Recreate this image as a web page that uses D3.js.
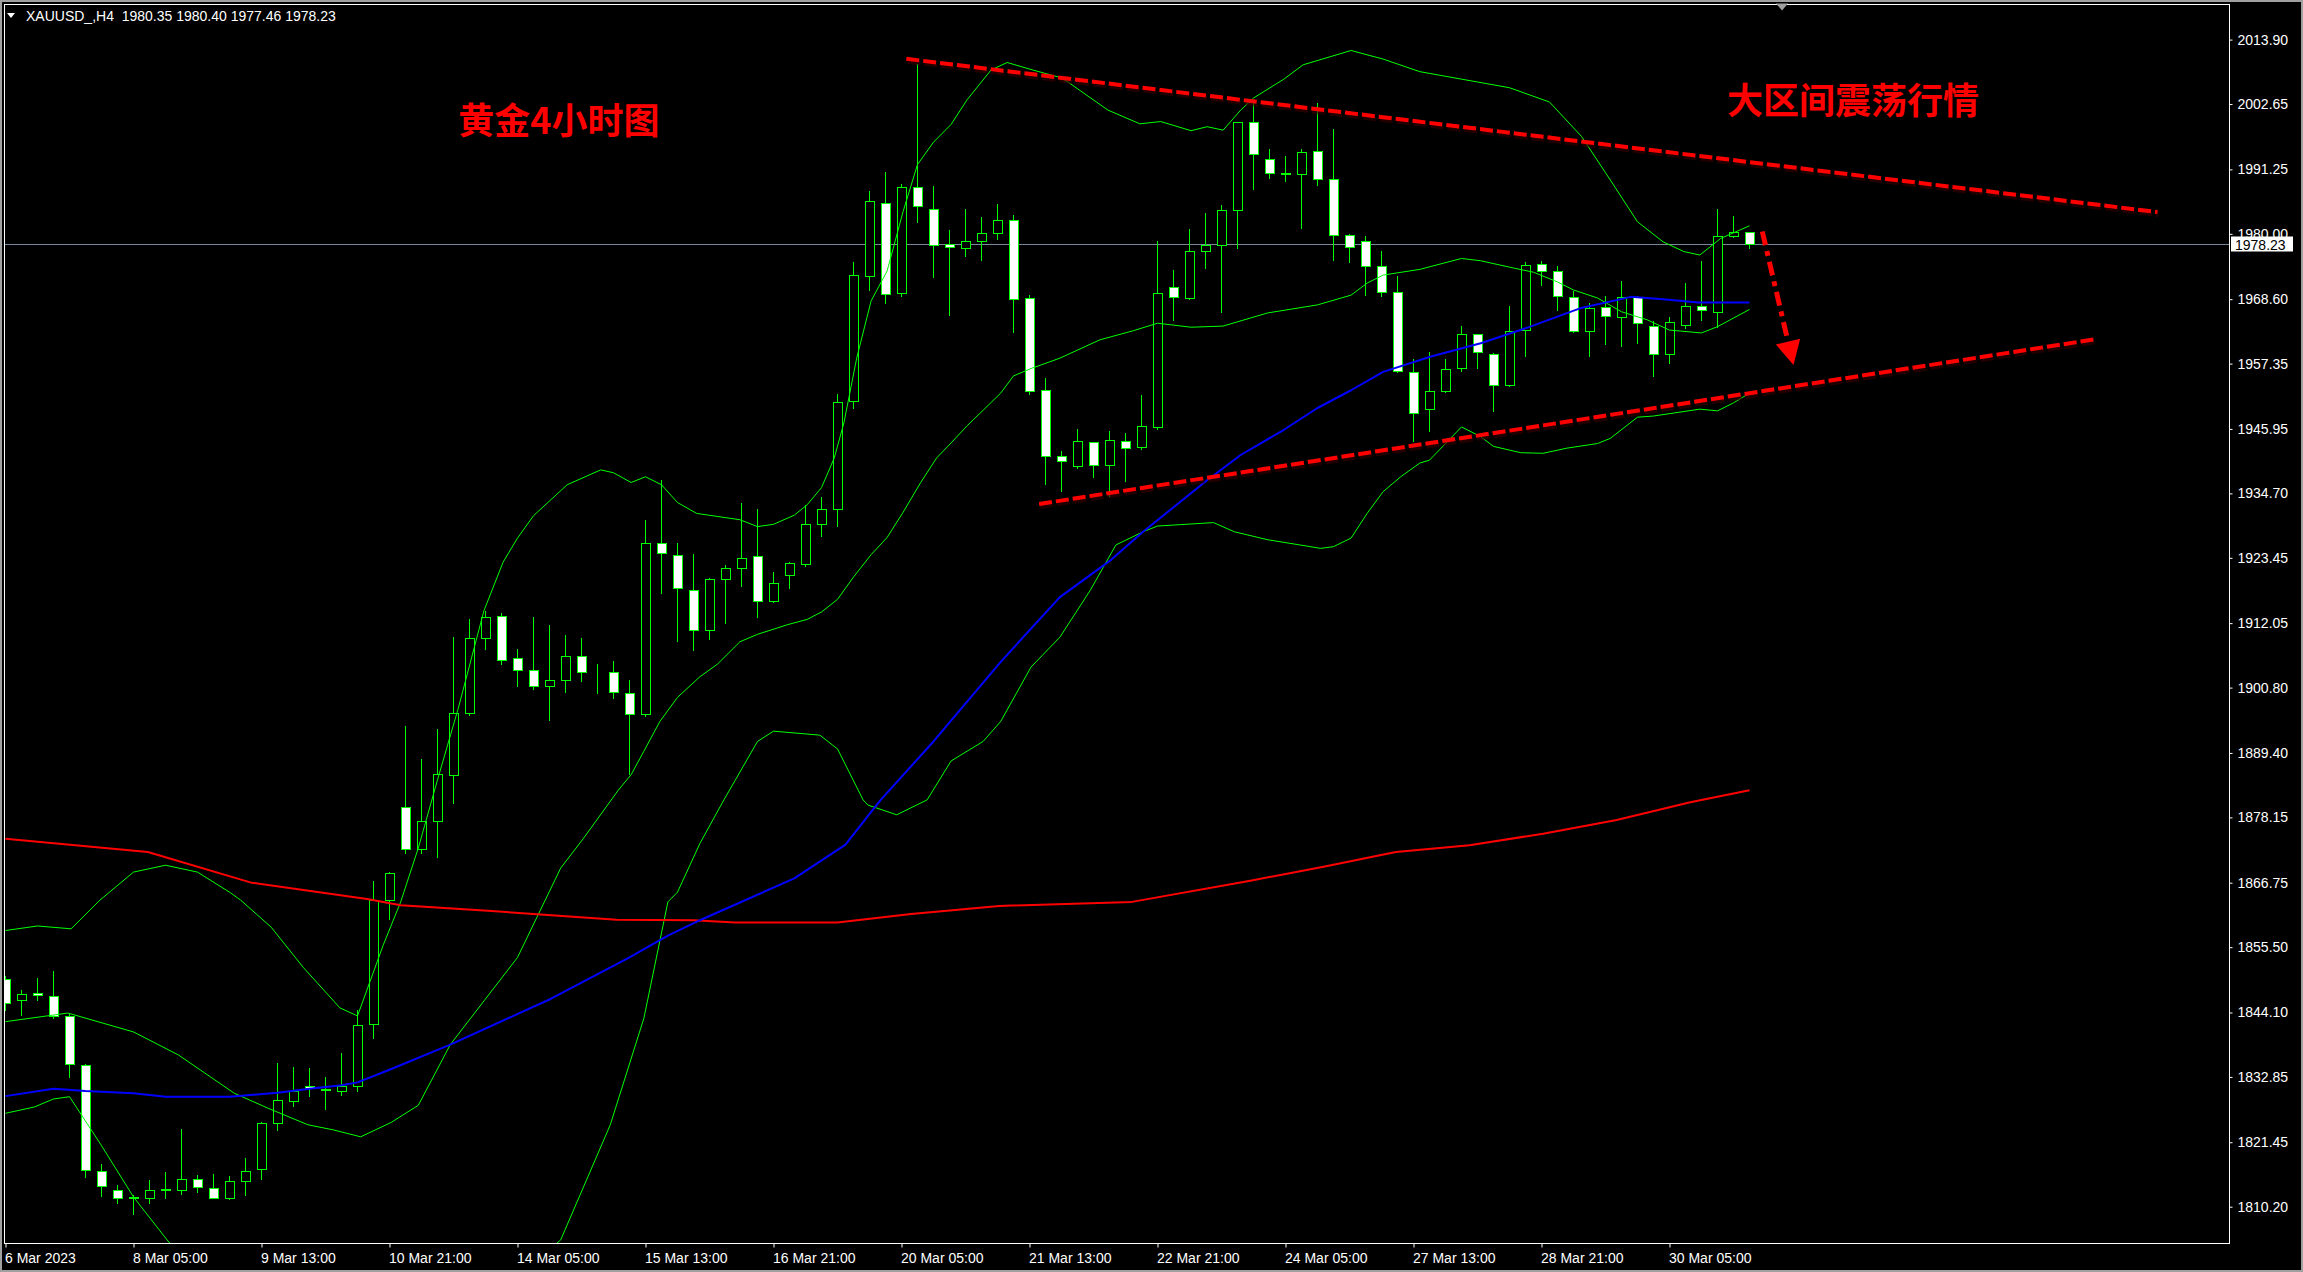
<!DOCTYPE html>
<html><head><meta charset="utf-8">
<script src="https://cdn.jsdelivr.net/npm/d3@7"></script>
<style>
html,body{margin:0;padding:0;background:#000;overflow:hidden}
svg{display:block}
</style></head><body>
<svg id="chart" width="2303" height="1272"></svg>
<script>
// ---------------- DATA ----------------
const symbolHeader = "XAUUSD_,H4  1980.35 1980.40 1977.46 1978.23";
const chartTitle = "黄金4小时图";
const rangeNote = "大区间震荡行情";
const currentPrice = 1978.23;

const opens = [1849.9,1846.3,1847.5,1846.9,1843.5,1834.9,1816.5,1813.2,1811.9,1811.7,
1813.2,1813.2,1815.1,1813.4,1811.8,1814.6,1816.7,1824.8,1828.7,1831.2,
1830.6,1830.4,1831.2,1842.1,1863.8,1879.9,1872.6,1877.6,1885.6,1896.4,
1909.5,1913.3,1905.9,1903.8,1901.1,1902.2,1906.4,1903.5,1903.5,1899.8,
1896.2,1926.0,1923.9,1917.9,1910.9,1919.7,1921.6,1923.7,1916.0,1920.5,
1922.4,1929.4,1932.0,1950.9,1972.6,1985.4,1969.6,1988.1,1984.3,1978.2,
1977.5,1978.7,1980.1,1982.5,1968.8,1952.7,1941.3,1939.4,1943.6,1939.6,
1943.8,1942.8,1946.2,1970.7,1968.8,1977.0,1978.0,1984.1,1999.6,1993.1,
1990.7,1990.4,1994.5,1989.5,1979.8,1978.8,1974.3,1969.9,1955.8,1949.5,
1952.5,1956.5,1962.5,1959.1,1953.6,1963.2,1974.7,1973.5,1968.9,1963.0,
1967.2,1965.4,1969.0,1963.9,1959.0,1964.1,1967.4,1966.4,1979.7,1980.35];
const highs = [1850.4,1848.1,1850.1,1851.3,1844.0,1835.1,1817.6,1814.0,1812.2,1814.9,
1816.3,1823.7,1815.8,1815.9,1815.6,1818.7,1824.9,1835.2,1834.5,1834.4,
1832.9,1837.0,1844.5,1867.0,1868.6,1894.1,1888.4,1893.5,1909.7,1912.7,
1914.2,1913.8,1907.6,1913.2,1911.8,1910.0,1909.5,1904.9,1905.5,1902.1,
1930.0,1937.0,1926.1,1924.1,1920.0,1922.2,1933.1,1932.0,1920.9,1922.8,
1932.7,1934.1,1952.0,1975.0,1987.5,1990.8,1988.7,2009.7,1988.4,1980.7,
1984.3,1982.9,1985.2,1983.2,1969.3,1954.8,1942.1,1945.9,1943.7,1945.6,
1945.2,1951.9,1978.8,1973.7,1980.8,1983.6,1985.0,1999.6,2003.4,1994.8,
1993.5,1994.8,2002.9,1998.3,1979.9,1979.6,1977.0,1972.6,1958.1,1959.3,
1958.2,1963.9,1962.6,1959.2,1967.4,1975.0,1975.3,1974.3,1970.0,1967.9,
1969.1,1971.8,1969.1,1964.8,1965.4,1971.5,1975.3,1984.3,1983.1,1980.40];
const lows = [1844.5,1843.7,1846.3,1843.1,1832.9,1815.3,1812.1,1810.9,1809.0,1810.9,
1811.7,1812.4,1812.8,1811.7,1811.5,1812.2,1815.0,1823.5,1827.8,1829.5,
1827.3,1829.7,1830.4,1839.6,1860.5,1871.9,1871.9,1871.2,1880.6,1896.0,
1907.6,1905.0,1901.1,1900.5,1895.1,1900.0,1901.9,1899.8,1899.0,1885.7,
1895.8,1917.3,1909.0,1907.3,1909.2,1912.1,1918.5,1913.1,1915.8,1918.1,
1922.0,1927.2,1929.0,1949.6,1970.2,1968.0,1969.1,1982.0,1972.4,1965.8,
1976.1,1975.4,1979.1,1962.9,1952.0,1936.4,1935.2,1939.2,1937.6,1934.2,
1936.9,1942.4,1946.0,1964.9,1968.6,1974.1,1966.4,1977.6,1987.8,1989.7,
1989.3,1981.1,1988.5,1975.4,1975.1,1969.3,1969.1,1955.9,1943.9,1945.6,
1952.4,1956.1,1956.5,1949.0,1953.4,1958.7,1971.0,1966.7,1962.9,1958.6,
1960.8,1960.5,1961.0,1955.2,1957.5,1963.6,1965.0,1963.8,1979.4,1977.46];
const closes = [1845.7,1847.4,1847.1,1843.5,1835.1,1816.6,1813.8,1811.8,1811.8,1813.2,
1813.3,1815.1,1813.6,1811.8,1814.6,1816.5,1824.8,1828.9,1830.4,1830.9,
1830.7,1831.2,1842.0,1863.8,1868.4,1872.7,1877.6,1885.7,1896.4,1909.5,
1913.2,1905.7,1903.9,1901.1,1902.1,1906.4,1903.6,1903.5,1900.1,1896.2,
1926.0,1924.3,1918.1,1910.9,1919.7,1921.6,1923.5,1916.0,1919.1,1922.6,
1929.4,1932.0,1950.6,1972.8,1985.8,1969.5,1988.1,1984.8,1978.0,1977.7,
1978.7,1980.1,1982.4,1968.7,1952.5,1941.3,1940.3,1943.8,1939.6,1944.0,
1942.7,1946.4,1969.6,1968.9,1977.0,1978.0,1984.1,1999.5,1993.9,1990.7,
1990.4,1994.3,1989.5,1979.8,1977.7,1974.3,1969.9,1956.1,1948.8,1952.5,
1956.4,1962.5,1959.3,1953.6,1963.1,1974.5,1973.5,1969.1,1963.0,1967.1,
1965.6,1968.9,1964.4,1959.0,1964.6,1967.4,1966.7,1979.7,1980.3,1978.23];

const timeLabelBars = [0,8,16,24,32,40,48,56,64,72,80,88,96,104];
const timeLabels = ["6 Mar 2023","8 Mar 05:00","9 Mar 13:00","10 Mar 21:00","14 Mar 05:00",
"15 Mar 13:00","16 Mar 21:00","20 Mar 05:00","21 Mar 13:00","22 Mar 21:00","24 Mar 05:00",
"27 Mar 13:00","28 Mar 21:00","30 Mar 05:00"];
const priceTicks = [2013.90,2002.65,1991.25,1980.00,1968.60,1957.35,1945.95,1934.70,1923.45,
1912.05,1900.80,1889.40,1878.15,1866.75,1855.50,1844.10,1832.85,1821.45,1810.20];

// indicator lines: [bar index, price]
const bbUpper = [[0,1858.4],[2,1859.2],[4.1,1858.7],[5.9,1863.7],[8,1868.6],[10,1869.8],[12,1868.6],[14,1865.1],
[14.7,1863.7],[16.6,1859.0],[18.6,1852.0],[20.9,1844.9],[22,1843.5],[23.6,1855.8],[24.7,1863.4],[25.8,1872.8],
[27,1884.7],[28.3,1897.2],[29.9,1914.2],[31.1,1922.7],[32,1926.9],[33,1930.8],[35.1,1936.2],[37.2,1938.8],
[38,1938.3],[39.1,1936.6],[40,1937.6],[41,1936.2],[42,1933.1],[43.2,1931.2],[45.9,1930.1],[47,1928.9],
[48,1929.3],[49.3,1930.9],[50.1,1932.7],[51,1935.7],[51.8,1940.9],[52.4,1947.0],[53.2,1958.3],[54.1,1968.3],
[55.1,1973.5],[56.1,1983.9],[57,1992.1],[58,1996.0],[59.1,1999.1],[60.1,2003.4],[61.6,2008.6],[62.6,2009.9],
[64.2,2008.6],[65.9,2007.3],[66.4,2006.5],[68.9,2001.6],[70.9,1999.2],[72.2,1999.6],[74.1,1998.0],[75.1,1998.7],
[76.1,1998.1],[77.2,2001.6],[78,2003.7],[79.9,2007.0],[81.1,2009.5],[84.1,2012.0],[86.1,2010.5],[88.4,2008.3],
[91,2007.0],[94,2005.5],[96.5,2003.0],[98.5,1997.0],[100.3,1989.4],[102,1982.1],[103.6,1978.6],[104.9,1976.9],
[105.9,1976.3],[107.2,1979.2],[109,1981.4]];
const bbMiddle = [[0,1842.5],[3.9,1844.0],[8,1840.7],[10.8,1836.7],[14.3,1830.0],[16.4,1827.4],[18.9,1824.5],
[20.5,1823.6],[22.2,1822.4],[24.1,1824.9],[25.8,1827.9],[27.8,1838.5],[29.9,1846.1],[32,1853.7],[34.7,1869.3],
[36.1,1874.4],[38.3,1882.9],[39.1,1885.6],[39.9,1889.7],[40.9,1894.9],[42,1899.1],[43.4,1902.7],[44.5,1904.9],
[45.9,1908.8],[47,1910.1],[48.9,1911.8],[50.1,1912.7],[51,1914.0],[52,1916.2],[53,1920.1],[54.1,1924.0],
[55.1,1927.0],[56.1,1931.4],[57.2,1936.6],[58.2,1940.9],[59.1,1943.5],[60.1,1946.5],[61.1,1949.2],[62.2,1952.2],
[63,1955.2],[64.1,1956.5],[65.9,1958.3],[68.4,1961.5],[70.5,1963.1],[72,1964.4],[74.1,1963.7],[76.1,1963.9],
[78.9,1966.2],[82,1967.6],[84.1,1969.3],[85.1,1971.4],[86.1,1972.8],[88.4,1973.8],[91,1975.7],[92.2,1975.3],
[94.3,1974.0],[95.5,1973.3],[97,1971.6],[98,1970.2],[99.5,1968.8],[101,1966.4],[102.6,1965.0],[104,1963.2],
[106,1962.7],[107,1963.8],[109,1966.8]];
const bbLower = [[0,1826.5],[1.8,1827.6],[3,1829.0],[4,1829.4],[5.9,1821.3],[8,1811.9],[10.1,1804.4],[13,1795.0],
[16,1788.0],[20,1785.0],[24,1786.0],[28,1790.0],[32,1798.0],[34.7,1804.4],[37.8,1824.5],[39.9,1843.1],
[41.4,1863.4],[42,1865.1],[43.4,1873.6],[44.9,1881.2],[47,1891.4],[48,1893.2],[50.9,1892.5],[52,1890.1],
[53.6,1881.2],[53.9,1880.3],[55.7,1878.6],[57.6,1881.2],[59.1,1888.0],[61.1,1891.4],[62.2,1894.9],[64.1,1904.4],
[65.9,1909.6],[67.8,1917.8],[69.4,1925.7],[71.1,1928.0],[72,1929.0],[75.5,1929.6],[76.8,1928.0],[78.9,1926.6],
[80.9,1925.7],[82.2,1925.1],[83,1925.4],[84.1,1926.9],[85.1,1931.2],[86.1,1935.0],[87.2,1937.6],[88.4,1940.0],
[89,1940.5],[91,1946.3],[92.2,1944.6],[93,1942.9],[94.7,1941.8],[96.1,1941.7],[97.6,1942.6],[99.5,1943.4],
[100.3,1944.3],[102,1948.0],[103,1948.2],[105.9,1949.4],[107,1949.1],[108,1950.5],[109,1952.2]];
const maBlue = [[0,1829.5],[3,1830.8],[5,1830.4],[8,1830.0],[10,1829.4],[14,1829.4],[17,1830.1],[19,1830.8],
[21,1831.4],[22,1831.9],[24,1834.1],[27.8,1838.5],[34.1,1846.5],[39,1853.7],[41.4,1857.5],[43.4,1860.2],
[49.3,1867.5],[52.5,1873.4],[54.3,1879.8],[54.7,1881.2],[58,1891.4],[62.2,1905.3],[65.9,1916.6],[69.1,1923.1],
[71.1,1928.0],[75.1,1937.0],[77.2,1941.4],[79.9,1945.8],[82,1949.6],[84.1,1952.7],[86.1,1955.9],[89.1,1958.6],
[92.2,1960.9],[95.3,1963.8],[98.4,1967.0],[101.6,1969.0],[103.6,1968.6],[105.8,1968.0],[109,1968.0]];
const maRed = [[0,1874.4],[8.9,1872.1],[15.3,1866.8],[22.6,1863.9],[24.7,1862.8],[29.9,1861.9],[38.2,1860.3],
[43,1860.2],[45.6,1859.8],[52,1859.8],[56.6,1861.3],[62.1,1862.7],[70.4,1863.4],[77.8,1867.1],[82.3,1869.5],
[86.9,1872.1],[91.5,1873.3],[96.1,1875.3],[100.7,1877.7],[105.3,1880.8],[109,1882.9]];

// drawn objects: [bar index, price]
const trendUpper = [[56.3,2010.55],[134.5,1983.8]];
const trendLower = [[64.6,1932.85],[130.6,1961.6]];
const arrowLine = [[109.8,1980.4],[111.75,1957.1]];
const titlePos = [28.3,1997.4];
const notePos = [107.6,2000.9];
const shiftMarkBar = 111;

// ---------------- DRAW ----------------
const W = 2303, H = 1272;
const L = 4.5, T = 4.5, R = 2229.5, B = 1243.5;
const svg = d3.select('#chart');
const FONT = "'Liberation Sans', Arial, sans-serif";
const CJK = "'Noto Sans CJK SC', 'Noto Sans', sans-serif";

svg.append('rect').attr('width', W).attr('height', H).attr('fill', '#000');
// window frame
svg.append('rect').attr('x', 1).attr('y', 1).attr('width', W - 2).attr('height', H - 2)
  .attr('fill', 'none').attr('stroke', '#a0a0a0').attr('stroke-width', 2);

const x = d3.scaleLinear().domain([0, 139]).range([5.5, 2229.5]);
const y = d3.scaleLinear().domain([2013.9, 1810.2]).range([39.6, 39.6 + 203.7 * 5.7295]);

svg.append('defs').append('clipPath').attr('id', 'plotclip')
  .append('rect').attr('x', L).attr('y', T).attr('width', R - L).attr('height', B - T);

const plot = svg.append('g').attr('clip-path', 'url(#plotclip)');

// current price line
const cpY = Math.round(y(currentPrice)) + 0.5;
plot.append('line').attr('x1', L).attr('x2', R).attr('y1', cpY).attr('y2', cpY)
  .attr('stroke', '#778899').attr('stroke-width', 1);

// candles
const bars = d3.range(opens.length).map(i => ({i, o: opens[i], h: highs[i], l: lows[i], c: closes[i]}));
const g = plot.append('g');
g.selectAll('line.wick').data(bars).join('line').attr('class', 'wick')
  .attr('x1', d => x(d.i)).attr('x2', d => x(d.i))
  .attr('y1', d => Math.round(y(d.h))).attr('y2', d => Math.round(y(d.l)) + 1)
  .attr('stroke', '#00ff00').attr('stroke-width', 1);
g.selectAll('rect.body').data(bars).join('rect').attr('class', 'body')
  .attr('x', d => x(d.i) - 4).attr('width', 9)
  .attr('y', d => Math.round(y(Math.max(d.o, d.c))) + 0.5)
  .attr('height', d => Math.max(0, Math.round(y(Math.min(d.o, d.c))) - Math.round(y(Math.max(d.o, d.c)))))
  .attr('fill', d => d.c >= d.o ? '#000' : '#fff')
  .attr('stroke', '#00ff00').attr('stroke-width', 1);

// indicators
const lineGen = d3.line().x(d => x(d[0])).y(d => y(d[1]));
[[bbUpper, '#00ff00', 1], [bbMiddle, '#00ff00', 1], [bbLower, '#00ff00', 1],
 [maRed, '#ff0000', 2], [maBlue, '#0000ff', 2]].forEach(([data, col, w]) => {
  plot.append('path').datum(data).attr('d', lineGen).attr('fill', 'none')
    .attr('stroke', col).attr('stroke-width', w).attr('stroke-linejoin', 'round');
});

// trend lines
[trendUpper, trendLower].forEach(t => {
  plot.append('path').datum(t).attr('d', lineGen).attr('fill', 'none')
    .attr('stroke', '#3a0000').attr('stroke-width', 4).attr('stroke-dasharray', '13,4')
    .attr('transform', 'translate(1,3)').attr('opacity', 0.6);
  plot.append('path').datum(t).attr('d', lineGen).attr('fill', 'none')
    .attr('stroke', '#ff0000').attr('stroke-width', 4).attr('stroke-dasharray', '13,4');
});

// arrow (dash-dot shaft + head)
{
  const p0 = [x(arrowLine[0][0]), y(arrowLine[0][1])];
  const p1 = [x(arrowLine[1][0]), y(arrowLine[1][1])];
  const dx = p1[0] - p0[0], dy = p1[1] - p0[1], len = Math.hypot(dx, dy);
  const ux = dx / len, uy = dy / len, px = -uy, py = ux;
  const headL = 24, headW = 12.5;
  const bx = p1[0] - ux * headL, by = p1[1] - uy * headL;
  plot.append('line').attr('x1', p0[0]).attr('y1', p0[1]).attr('x2', bx).attr('y2', by)
    .attr('stroke', '#ff0000').attr('stroke-width', 5).attr('stroke-dasharray', '14,6,5,6');
  plot.append('path')
    .attr('d', `M${p1[0]},${p1[1]}L${bx + px * headW},${by + py * headW}L${bx - px * headW},${by - py * headW}Z`)
    .attr('fill', '#ff0000');
}

// annotation texts
plot.append('text').attr('x', x(titlePos[0])).attr('y', y(titlePos[1]))
  .attr('fill', '#ff0000').attr('font-family', CJK).attr('font-weight', 'bold')
  .attr('font-size', 36).text(chartTitle);
plot.append('text').attr('x', x(notePos[0])).attr('y', y(notePos[1]))
  .attr('fill', '#ff0000').attr('font-family', CJK).attr('font-weight', 'bold')
  .attr('font-size', 36).text(rangeNote);

// plot border
svg.append('rect').attr('x', L).attr('y', T).attr('width', R - L).attr('height', B - T)
  .attr('fill', 'none').attr('stroke', '#fff').attr('stroke-width', 1);

// shift marker at top
{
  const sx = Math.round(x(shiftMarkBar));
  svg.append('path').attr('d', `M${sx - 6},${T - 1}L${sx + 6},${T - 1}L${sx},${T + 6}Z`).attr('fill', '#a0a0a0');
}

// y axis
const yAxis = d3.axisRight(y).tickValues(priceTicks).tickSize(3).tickPadding(5)
  .tickFormat(d => d.toFixed(2));
const ya = svg.append('g').attr('transform', `translate(${R},0)`).call(yAxis);
ya.select('.domain').remove();
ya.selectAll('line').attr('stroke', '#fff');
ya.selectAll('text').attr('fill', '#fff').attr('font-family', FONT).attr('font-size', 14);

// x axis
const xAxis = d3.axisBottom(x).tickValues(timeLabelBars).tickSize(4)
  .tickFormat((d, i) => timeLabels[i]);
const xa = svg.append('g').attr('transform', `translate(0,${B})`).call(xAxis);
xa.select('.domain').remove();
xa.selectAll('line').attr('stroke', '#fff');
xa.selectAll('text').attr('fill', '#fff').attr('font-family', FONT).attr('font-size', 14)
  .attr('text-anchor', 'start').attr('dx', -1).attr('y', 19).attr('dy', 0);

// current price tag
svg.append('rect').attr('x', 2231).attr('y', cpY - 8).attr('width', 62).attr('height', 15).attr('fill', '#fff');
svg.append('text').attr('x', 2235).attr('y', cpY + 5).attr('fill', '#000')
  .attr('font-family', FONT).attr('font-size', 14).text(currentPrice.toFixed(2));

// header
svg.append('path').attr('d', 'M7,13L15,13L11,18Z').attr('fill', '#fff');
svg.append('text').attr('x', 26).attr('y', 21).attr('fill', '#fff')
  .attr('font-family', FONT).attr('font-size', 14).attr('xml:space', 'preserve')
  .style('white-space', 'pre').text(symbolHeader);
</script>
</body></html>
